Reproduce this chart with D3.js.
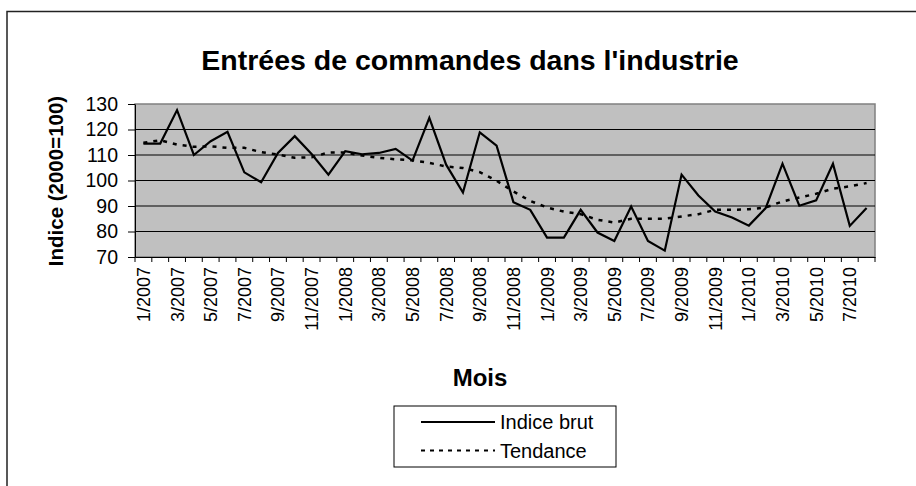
<!DOCTYPE html>
<html><head><meta charset="utf-8">
<script src="https://cdn.jsdelivr.net/npm/d3@7"></script>
<style>body{margin:0;background:#fff}svg{display:block}text{font-family:"Liberation Sans",Arial,sans-serif}</style>
</head><body><svg id="c" width="916" height="486"></svg>
<script>
const months = [];
for (let y = 2007; y <= 2010; y++) for (let m = 1; m <= 12; m++) { if (y === 2010 && m > 8) break; months.push(m + "/" + y); }
const indiceBrut = [114.5,114.5,127.6,110,115.4,119.1,103.2,99.3,110.8,117.4,110.4,102.3,111.5,110.3,110.8,112.4,107.8,124.6,106.2,95.3,118.9,113.7,91.5,88.5,77.6,77.6,88.5,79.6,76.3,89.8,76.3,72.5,102.3,94.1,87.8,85.5,82.3,89.2,106.6,90.1,92.2,106.6,82.2,89.2];
const tendance = [114.8,115.8,114.1,113.2,113.4,112.8,112.8,111.1,110.2,108.9,109.1,111,111,109.8,108.9,108.3,107.9,106.9,105.5,104.9,103.3,99.9,95.7,92,89.4,87.8,86.8,84.6,83.5,85,85,85,85.9,86.8,88.5,88.5,88.7,89.4,91.8,93.3,94.8,96.8,97.7,99];
const yTicks = [70,80,90,100,110,120,130];
const title = "Entrées de commandes dans l'industrie";
const xTitle = "Mois", yTitle = "Indice (2000=100)";
const legendLabels = ["Indice brut","Tendance"];

const svg = d3.select("#c");
svg.append("rect").attr("x",7).attr("y",11.5).attr("width",950).attr("height",520).attr("fill","#fff").attr("stroke","#222").attr("stroke-width",1.5);

const L=135,R=875,T=104,B=257;
const x = d3.scaleBand().domain(months).range([L,R]);
const y = d3.scaleLinear().domain([70,130]).range([B,T]);

svg.append("rect").attr("x",L).attr("y",T).attr("width",R-L).attr("height",B-T).attr("fill","#c0c0c0").attr("stroke","#808080").attr("stroke-width",1.5);
svg.append("g").selectAll("line").data(yTicks.slice(1,-1)).join("line")
  .attr("x1",L).attr("x2",R).attr("y1",d=>y(d)).attr("y2",d=>y(d)).attr("stroke","#000").attr("stroke-width",1);

const ya = svg.append("g").attr("transform",`translate(${L},0)`).call(d3.axisLeft(y).tickValues(yTicks).tickSize(7).tickPadding(10).tickSizeOuter(0));
ya.select(".domain").attr("stroke","#000");
ya.selectAll("text").attr("font-size",19.5).attr("fill","#000");

const xa = svg.append("g").attr("transform",`translate(0,${B})`).call(d3.axisBottom(x).tickValues([]).tickSizeOuter(0));
xa.select(".domain").attr("stroke","#000");
svg.append("g").selectAll("line").data(months.concat(["end"])).join("line")
  .attr("x1",(d,i)=>L+i*x.step()).attr("x2",(d,i)=>L+i*x.step()).attr("y1",B).attr("y2",B+5).attr("stroke","#000");
svg.append("g").selectAll("text").data(months.filter((d,i)=>i%2===0)).join("text")
  .attr("transform",d=>`translate(${x(d)+x.bandwidth()/2+6.5},${B+10}) rotate(-90)`)
  .attr("text-anchor","end").attr("font-size",18).text(d=>d);

const line = d3.line().x((d,i)=>x(months[i])+x.bandwidth()/2).y(d=>y(d));
svg.append("path").datum(tendance).attr("d",line).attr("fill","none").attr("stroke","#000").attr("stroke-width",2.5).attr("stroke-dasharray","4,6");
svg.append("path").datum(indiceBrut).attr("d",line).attr("fill","none").attr("stroke","#000").attr("stroke-width",2.2);

svg.append("text").attr("x",470).attr("y",70).attr("text-anchor","middle").attr("font-size",28.5).attr("font-weight","bold").text(title);
svg.append("text").attr("x",480).attr("y",386).attr("text-anchor","middle").attr("font-size",24).attr("font-weight","bold").text(xTitle);
svg.append("text").attr("transform",`translate(63,181) rotate(-90)`).attr("text-anchor","middle").attr("font-size",20.5).attr("font-weight","bold").text(yTitle);

const lg = svg.append("g");
lg.append("rect").attr("x",394).attr("y",406).attr("width",222).attr("height",61).attr("fill","#fff").attr("stroke","#000");
legendLabels.forEach((lab,i)=>{
  const yy = 422 + i*28.5;
  lg.append("line").attr("x1",421).attr("x2",495).attr("y1",yy).attr("y2",yy).attr("stroke","#000").attr("stroke-width",2).attr("stroke-dasharray", i? "4,5":null);
  lg.append("text").attr("x",500).attr("y",yy+7).attr("font-size",20).text(lab);
});
</script></body></html>
